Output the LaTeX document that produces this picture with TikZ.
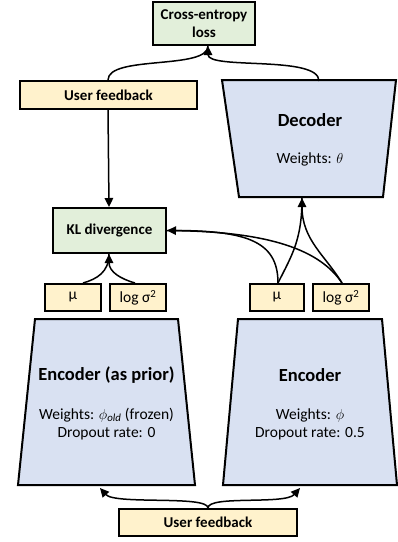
\documentclass[tikz,border=0pt]{standalone}
\usepackage{fontspec}
\setmainfont{Carlito}
\usetikzlibrary{arrows.meta}
\definecolor{boxgreen}{HTML}{E2EFDA}
\definecolor{boxyellow}{HTML}{FFF2CC}
\definecolor{boxblue}{HTML}{D9E1F2}
\tikzset{
  box/.style={draw=black, line width=2pt, inner sep=0pt, align=center},
  greenbox/.style={box, fill=boxgreen, font=\fontsize{15}{18}\selectfont\bfseries},
  fbbox/.style={box, fill=boxyellow, font=\fontsize{15}{18}\selectfont\bfseries, minimum height=27pt},
  latbox/.style={box, fill=boxyellow, font=\fontsize{15.5}{18}\selectfont, minimum height=27pt, minimum width=56pt},
  trap/.style={draw=black, line width=2pt, fill=boxblue, line join=miter},
  title/.style={font=\fontsize{18.5}{22}\selectfont\bfseries, inner sep=0pt},
  info/.style={font=\fontsize{15.5}{18}\selectfont, inner sep=0pt, align=center},
  conn/.style={line width=1.5pt, -{Triangle[length=9pt,width=8.5pt]}},
  plain/.style={line width=1.5pt}
}
\begin{document}
\begin{tikzpicture}[x=1pt,y=-1pt]
\useasboundingbox (0,0) rectangle (398,542);

% trapezoids
\draw[trap] (222,80) -- (396,80) -- (383,197) -- (239,197) -- cycle;
\draw[trap] (35,319) -- (178,319) -- (195,485) -- (18,485) -- cycle;
\draw[trap] (238,319) -- (382,319) -- (397,485) -- (223,485) -- cycle;

\coordinate (dectop) at (319,81);
\coordinate (decbot) at (302,198);
\coordinate (encLbot) at (100,488);
\coordinate (encRbot) at (300,488);

\node[title] (dectitle) at (310,120) {Decoder};
\node[info] (decinfo) at (310,159) {Weights: $\theta$};
\node[title] (encLtitle) at (106.5,375) {Encoder (as prior)};
\node[info] (encLinfo) at (106.5,424) {Weights: $\phi_{\mathit{old}}$ (frozen)\\Dropout rate: 0};
\node[title] (encRtitle) at (310,375) {Encoder};
\node[info] (encRinfo) at (310,424) {Weights: $\phi$\\Dropout rate: 0.5};

% boxes
\node[greenbox, minimum width=102pt, minimum height=43pt] (ce) at (204,23.5) {Cross-entropy\\loss};
\node[fbbox, minimum width=177pt, minimum height=28pt] (uf1) at (108.5,95) {User feedback};
\node[greenbox, minimum width=113pt, minimum height=45pt] (kl) at (109.5,230.5) {KL divergence};
\node[latbox] (mu1) at (73,297.5) {μ};
\node[latbox] (ls1) at (138,297.5) {log σ\textsuperscript{2}};
\node[latbox, minimum width=54pt] (mu2) at (277,297.5) {μ};
\node[latbox] (ls2) at (341,297.5) {log σ\textsuperscript{2}};
\node[fbbox, minimum width=178pt] (uf2) at (208,522.5) {User feedback};

% connectors to cross-entropy
\draw[plain] ([xshift=-0.5pt]uf1.north) .. controls (108,55) and (208,70) .. ([xshift=4pt]ce.south);
\draw[conn] (dectop) .. controls (319,55) and (208,70) .. ([xshift=4pt]ce.south);

% user feedback to KL
\draw[conn] ([xshift=-0.5pt]uf1.south) -- ([xshift=-0.5pt]kl.north);

% prior latents to KL
\draw[plain] ([xshift=10pt]mu1.north) .. controls (97,279) and (109,272) .. ([xshift=-0.5pt]kl.south);
\draw[conn] ([xshift=-3pt]ls1.north) .. controls (121,279) and (109,272) .. ([xshift=-0.5pt]kl.south);

% encoder latents to decoder and KL
\draw[plain] ([xshift=1pt]mu2.north) .. controls (292,255) and (302,240) .. (decbot);
\draw[conn] ([xshift=1pt]ls2.north) .. controls (325,255) and (302,240) .. (decbot);
\draw[plain] ([xshift=1pt]mu2.north) .. controls (278,240) and (245,230) .. (kl.east);
\draw[conn] ([xshift=1pt]ls2.north) .. controls (320,250) and (270,232) .. (kl.east);

% user feedback to encoders
\draw[conn] (uf2.north) .. controls (208,495) and (115,505) .. (encLbot);
\draw[conn] (uf2.north) .. controls (208,495) and (285,505) .. (encRbot);
\end{tikzpicture}
\end{document}
